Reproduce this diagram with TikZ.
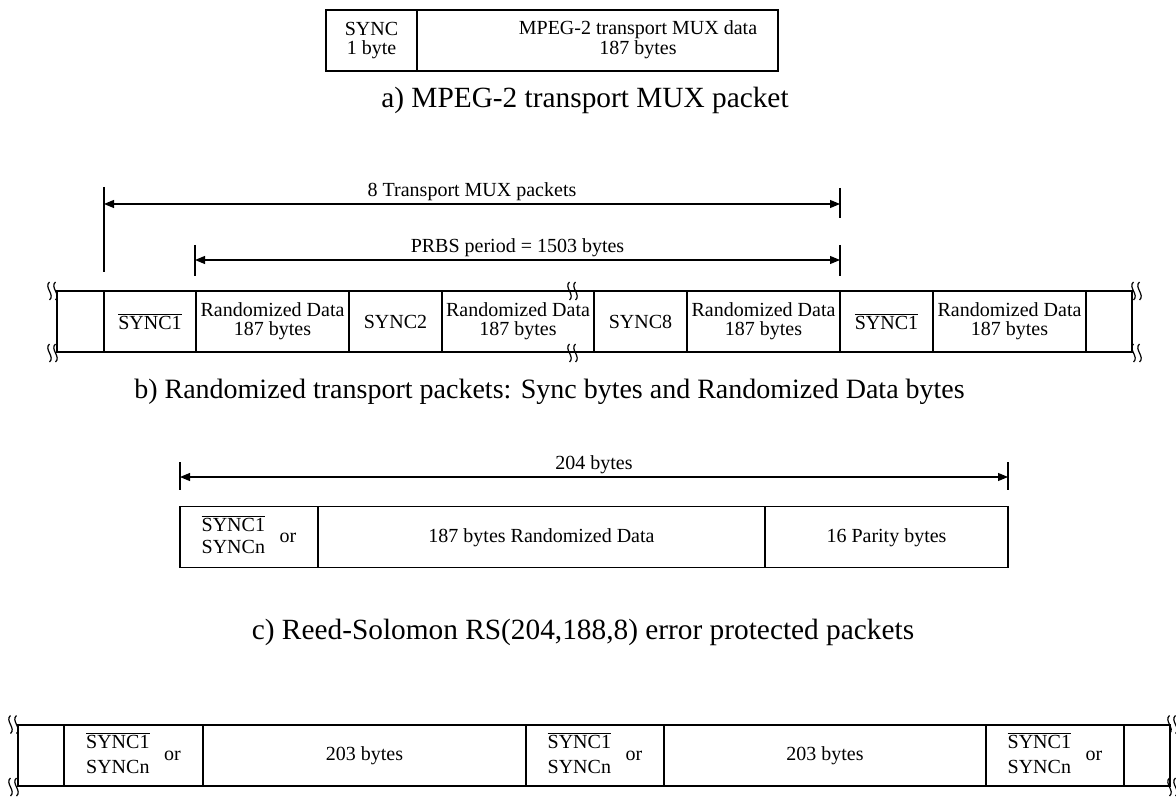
\documentclass[tikz,border=0pt]{standalone}
\usepackage{fontspec}
\setmainfont{Liberation Serif}
\usetikzlibrary{arrows.meta}
\begin{document}
\begin{tikzpicture}[x=0.75pt,y=-0.75pt,
  cell/.style={draw, line width=0.8pt, inner sep=0pt, align=center,
    font=\fontsize{15}{14.2}\selectfont, minimum height=45.75pt},
  cw/.style={minimum width=#1*0.75pt},
  captxt/.style={inner sep=0pt, font=\fontsize{22}{26}\selectfont},
  dimlbl/.style={inner sep=2pt, font=\fontsize{15}{18}\selectfont},
  dimline/.style={line width=0.8pt, {Triangle[length=7.5pt,width=6pt]}-{Triangle[length=7.5pt,width=6pt]}},
  extline/.style={line width=0.8pt},
  brkline/.style={line width=0.9pt},
  brk/.pic={
    \draw[brkline] (-1,-9) .. controls (-7,-4) and (5,4) .. (-1,9);
    \draw[brkline] (5,-9) .. controls (-1,-4) and (11,4) .. (5,9);
  }]
\useasboundingbox (0,0) rectangle (1176,798);

% ---- a) ----
\node[cell, cw=91, font=\fontsize{15}{14.5}\selectfont] (a1) at (371.5,40.5) {SYNC\\1 byte};
\node[cell, cw=361] (a2) at (597.5,40.5) {\hspace*{60.75pt}\begin{tabular}{@{}c@{}}MPEG-2 transport MUX data\\[0.5pt]187 bytes\end{tabular}};
\node[captxt] (capa) at (585,100) {a) MPEG-2 transport MUX packet};

% ---- b) dimensions ----
\coordinate (d1l) at (104,204);
\coordinate (d1r) at (840,204);
\coordinate (d2l) at (195,260);
\coordinate (d2r) at (840,260);
\coordinate (e1t) at (104,187);
\coordinate (e1b) at (104,272);
\coordinate (e2t) at (840,188);
\coordinate (e2b) at (840,218);
\coordinate (e3t) at (195,245);
\coordinate (e3b) at (195,276);
\coordinate (e4t) at (840,245);
\coordinate (e4b) at (840,276);
\draw[extline] (e1t) -- (e1b);
\draw[extline] (e2t) -- (e2b);
\draw[extline] (e3t) -- (e3b);
\draw[extline] (e4t) -- (e4b);
\draw[dimline] (d1l) -- node[dimlbl, above] (l1) {8 Transport MUX packets} (d1r);
\draw[dimline] (d2l) -- node[dimlbl, above] (l2) {PRBS period = 1503 bytes} (d2r);

% ---- b) row ----
\node[cell, cw=47]  (b0) at (80.5,321.5) {};
\node[cell, cw=92]  (b1) at (150,321.5) {$\overline{\mbox{SYNC1}}$};
\node[cell, cw=153] (b2) at (272.5,321.5) {Randomized Data\\187 bytes};
\node[cell, cw=93]  (b3) at (395.5,321.5) {SYNC2};
\node[cell, cw=152] (b4) at (518,321.5) {Randomized Data\\187 bytes};
\node[cell, cw=93]  (b5) at (640.5,321.5) {SYNC8};
\node[cell, cw=153] (b6) at (763.5,321.5) {Randomized Data\\187 bytes};
\node[cell, cw=93]  (b7) at (886.5,321.5) {$\overline{\mbox{SYNC1}}$};
\node[cell, cw=153] (b8) at (1009.5,321.5) {Randomized Data\\187 bytes};
\node[cell, cw=46]  (b9) at (1109,321.5) {};
\pic at (50.5,291) {brk};
\pic at (50.5,353) {brk};
\pic at (570.5,291) {brk};
\pic at (570.5,353) {brk};
\pic at (1134.5,291) {brk};
\pic at (1134.5,353) {brk};
\node[captxt, font=\fontsize{21}{26}\selectfont] (capb) at (549.5,392) {b) Randomized transport packets: Sync bytes and Randomized Data bytes};

% ---- c) ----
\coordinate (d3l) at (180,477);
\coordinate (d3r) at (1008,477);
\coordinate (e5t) at (180,462);
\coordinate (e5b) at (180,490);
\coordinate (e6t) at (1008,462);
\coordinate (e6b) at (1008,490);
\draw[extline] (e5t) -- (e5b);
\draw[extline] (e6t) -- (e6b);
\draw[dimline] (d3l) -- node[dimlbl, above] (l3) {204 bytes} (d3r);
\node[cell, cw=138] (c1) at (249,537.25) {\begin{tabular}{@{}l@{}}$\overline{\mbox{SYNC1}}$\\[2pt]SYNCn\end{tabular}\hspace{11pt}or};
\node[cell, cw=447] (c2) at (541.5,537.25) {187 bytes Randomized Data};
\node[cell, cw=243] (c3) at (886.5,537.25) {16 Parity bytes};
\node[captxt] (capc) at (583,632) {c) Reed-Solomon RS(204,188,8) error protected packets};

% ---- d) ----
\begin{scope}[every node/.append style={minimum height=46.5pt}]
\node[cell, cw=46]  (f0) at (41,755.5) {};
\node[cell, cw=139] (f1) at (133.5,755.5) {\begin{tabular}{@{}l@{}}$\overline{\mbox{SYNC1}}$\\[4.5pt]SYNCn\end{tabular}\hspace{11pt}or};
\node[cell, cw=323] (f2) at (364.5,755.5) {203 bytes};
\node[cell, cw=138] (f3) at (595,755.5) {\begin{tabular}{@{}l@{}}$\overline{\mbox{SYNC1}}$\\[4.5pt]SYNCn\end{tabular}\hspace{11pt}or};
\node[cell, cw=322] (f4) at (825,755.5) {203 bytes};
\node[cell, cw=138] (f5) at (1055,755.5) {\begin{tabular}{@{}l@{}}$\overline{\mbox{SYNC1}}$\\[4.5pt]SYNCn\end{tabular}\hspace{11pt}or};
\node[cell, cw=46]  (f6) at (1147,755.5) {};
\end{scope}
\pic at (11.5,724.5) {brk};
\pic at (11.5,787) {brk};
\pic at (1170.5,724.5) {brk};
\pic at (1170.5,787) {brk};
\end{tikzpicture}
\end{document}
